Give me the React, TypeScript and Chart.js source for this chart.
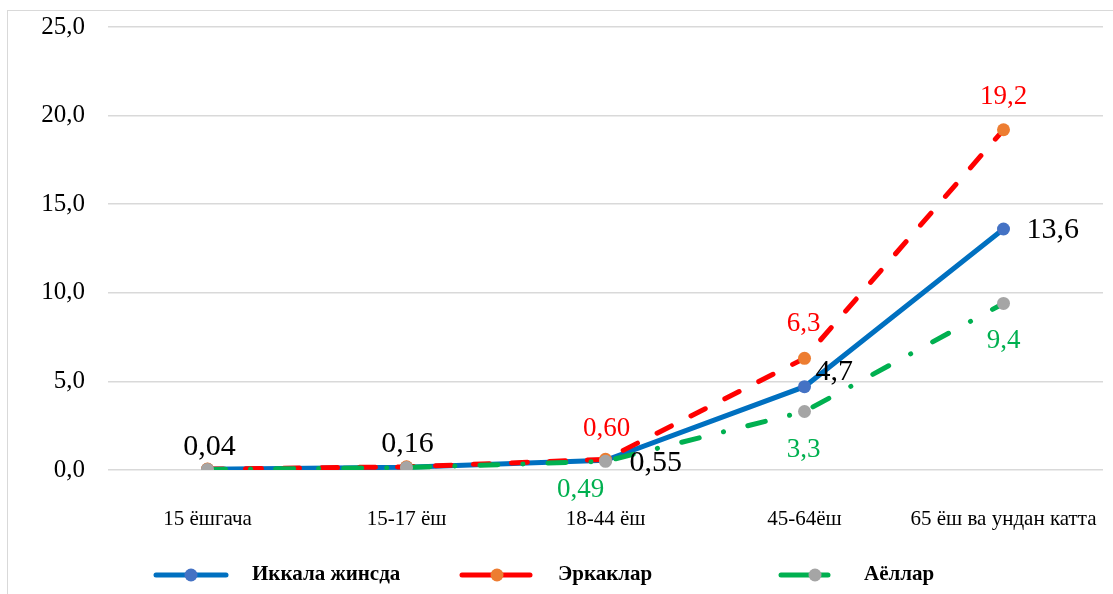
import React, { useEffect, useRef } from "react";
import { Chart, registerables } from "chart.js";

Chart.register(...registerables);

const categories = ["15 ёшгача", "15-17 ёш", "18-44 ёш", "45-64ёш", "65 ёш ва ундан катта"];
const bothValues = [0.04, 0.16, 0.55, 4.7, 13.6];
const menValues = [0.05, 0.18, 0.6, 6.3, 19.2];
const womenValues = [0.03, 0.14, 0.49, 3.3, 9.4];
const seriesNames = ["Иккала жинсда", "Эркаклар", "Аёллар"];
const yTickMin = 0;
const yTickMax = 25;
const yTickStep = 5;

// label placement (style only): null = no label
type Place = { dx: number; dy: number; align: CanvasTextAlign } | null;
const labelPlaces: Place[][] = [
  [
    { dx: 2, dy: -22, align: "center" },
    { dx: 1, dy: -23, align: "center" },
    { dx: 24, dy: 3, align: "left" },
    { dx: 11, dy: -15, align: "left" },
    { dx: 23, dy: 1, align: "left" },
  ],
  [null, null, { dx: 1, dy: -30, align: "center" }, { dx: -1, dy: -34, align: "center" }, { dx: 0, dy: -33, align: "center" }],
  [null, null, { dx: -25, dy: 29, align: "center" }, { dx: -1, dy: 38, align: "center" }, { dx: 0, dy: 37, align: "center" }],
];
const labelColors = ["#000000", "#FF0000", "#00B050"];
const labelFonts = ["30px 'Liberation Serif'", "27px 'Liberation Serif'", "27px 'Liberation Serif'"];

const fmt = (v: number) => (v < 1 ? v.toFixed(2) : v.toFixed(1)).replace(".", ",");

const labelPlugin = {
  id: "valueLabels",
  afterDatasetsDraw(chart: any) {
    const ctx = chart.ctx;
    ctx.save();
    chart.data.datasets.forEach((ds: any, i: number) => {
      const meta = chart.getDatasetMeta(i);
      meta.data.forEach((pt: any, j: number) => {
        const p = labelPlaces[i][j];
        if (!p) return;
        ctx.font = labelFonts[i];
        ctx.fillStyle = labelColors[i];
        ctx.textAlign = p.align;
        ctx.textBaseline = "middle";
        ctx.fillText(fmt(ds.data[j]), pt.x + p.dx, pt.y + p.dy);
      });
    });
    ctx.restore();
  },
};

const legendPlugin = {
  id: "customLegend",
  afterDraw(chart: any) {
    const ctx = chart.ctx;
    const y = 564;
    const items = [
      { x0: 148, x1: 218, mx: 183, tx: 244 },
      { x0: 454, x1: 522, mx: 489, tx: 550 },
      { x0: 773, x1: 820, mx: 807, tx: 856 },
    ];
    ctx.save();
    chart.data.datasets.forEach((ds: any, i: number) => {
      const it = items[i];
      ctx.beginPath();
      ctx.strokeStyle = ds.borderColor;
      ctx.lineWidth = 5;
      ctx.lineCap = "round";
      ctx.moveTo(it.x0, y);
      ctx.lineTo(it.x1, y);
      ctx.stroke();
      ctx.beginPath();
      ctx.fillStyle = ds.pointBackgroundColor;
      ctx.arc(it.mx, y, 6.5, 0, Math.PI * 2);
      ctx.fill();
      ctx.font = "bold 21px 'Liberation Serif'";
      ctx.fillStyle = "#000";
      ctx.textAlign = "left";
      ctx.textBaseline = "middle";
      ctx.fillText(seriesNames[i], it.tx, y);
    });
    ctx.restore();
  },
};

export default function App() {
  const ref = useRef<HTMLCanvasElement | null>(null);
  useEffect(() => {
    document.documentElement.style.overflow = "hidden";
    if (!ref.current) return;
    const chart = new Chart(ref.current, {
      type: "line",
      data: {
        labels: categories,
        datasets: [
          {
            label: seriesNames[0],
            data: bothValues,
            borderColor: "#0070C0",
            borderWidth: 5,
            pointRadius: 6.5,
            pointBackgroundColor: "#4472C4",
            pointBorderWidth: 0,
            borderCapStyle: "round",
            order: 3,
          },
          {
            label: seriesNames[1],
            data: menValues,
            borderColor: "#FF0000",
            borderWidth: 5,
            borderDash: [16, 22],
            borderCapStyle: "round",
            pointRadius: 6.5,
            pointBackgroundColor: "#ED7D31",
            pointBorderWidth: 0,
            order: 2,
          },
          {
            label: seriesNames[2],
            data: womenValues,
            borderColor: "#00B050",
            borderWidth: 5,
            borderDash: [18, 25, 0.1, 25],
            borderCapStyle: "round",
            pointRadius: 6.5,
            pointBackgroundColor: "#A5A5A5",
            pointBorderWidth: 0,
            order: 1,
          },
        ],
      },
      options: {
        animation: false,
        responsive: true,
        maintainAspectRatio: false,
        layout: { padding: { top: 16, right: 10, bottom: 45, left: 0 } },
        plugins: { legend: { display: false }, tooltip: { enabled: false } },
        scales: {
          x: {
            offset: true,
            grid: { display: false, offset: true },
            border: { display: false },
            ticks: { font: { family: "'Liberation Serif'", size: 21 }, color: "#000", padding: 29, maxRotation: 0, autoSkip: false },
            afterFit: (s: any) => {
              s.height = 79;
              s.paddingLeft = 0;
              s.paddingRight = 0;
            },
          },
          y: {
            min: yTickMin,
            max: yTickMax,
            grid: { color: "#D9D9D9", lineWidth: 1.5, drawTicks: false },
            border: { display: false },
            ticks: {
              stepSize: yTickStep,
              padding: 23,
              color: "#000",
              font: { family: "'Liberation Serif'", size: 25 },
              callback: (v: any) => Number(v).toFixed(1).replace(".", ","),
            },
            afterFit: (s: any) => {
              s.width = 100;
              s.paddingTop = 0;
              s.paddingBottom = 0;
            },
          },
        },
      },
      plugins: [labelPlugin, legendPlugin],
    });
    return () => chart.destroy();
  }, []);
  return (
    <div
      style={{
        position: "fixed",
        left: 7,
        top: 10,
        width: 1130,
        height: 600,
        border: "1px solid #D9D9D9",
        background: "#fff",
      }}
    >
      <div style={{ position: "absolute", left: 0, top: 0, width: 1105, height: 583 }}>
        <canvas ref={ref} />
      </div>
    </div>
  );
}
